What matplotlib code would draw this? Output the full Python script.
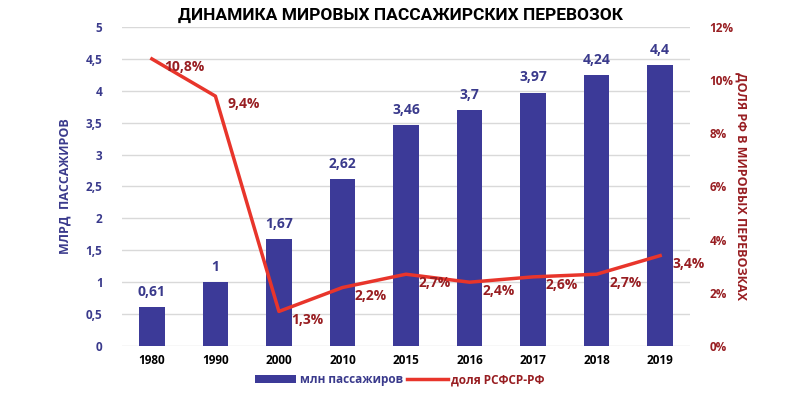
import numpy as np
import matplotlib.pyplot as plt

plt.rcParams['font.family'] = ['Open Sans', 'DejaVu Sans']
plt.rcParams['font.weight'] = 'bold'

years = ['1980', '1990', '2000', '2010', '2015', '2016', '2017', '2018', '2019']
passengers = [0.61, 1, 1.67, 2.62, 3.46, 3.7, 3.97, 4.24, 4.4]
pass_labels = ['0,61', '1', '1,67', '2,62', '3,46', '3,7', '3,97', '4,24', '4,4']
share = [10.8, 9.4, 1.3, 2.2, 2.7, 2.4, 2.6, 2.7, 3.4]
share_labels = ['10,8%', '9,4%', '1,3%', '2,2%', '2,7%', '2,4%', '2,6%', '2,7%', '3,4%']

blue = '#3c3a98'
dblue = '#3a3a8c'
red = '#e8352b'
dred = '#981e22'

fig = plt.figure(figsize=(8, 3.93), dpi=100)
ax = fig.add_axes([0.1525, 0.1196, 0.71, 0.8117])
x = np.arange(len(years))

bars = ax.bar(x, passengers, width=0.4, color=blue, label='млн пассажиров', zorder=2)
ax.set_ylim(0, 5)
ax.set_xlim(-0.47, 8.47)
ax.set_yticks(np.arange(0, 5.01, 0.5))
ax.set_yticklabels(['0', '0,5', '1', '1,5', '2', '2,5', '3', '3,5', '4', '4,5', '5'])
ax.yaxis.grid(True, color='#d9d9d9', linewidth=1, zorder=0)
ax.set_axisbelow(True)
for s in ax.spines.values():
    s.set_visible(False)
ax.tick_params(axis='y', length=0, pad=14, labelsize=8.5, labelcolor=dblue)
ax.tick_params(axis='x', length=0, pad=6, labelsize=8.5, labelcolor='black')
ax.set_xticks(x)
ax.set_xticklabels(years, fontweight='bold')
ax.set_ylabel('МЛРД  ПАССАЖИРОВ', color=dblue, fontsize=9, labelpad=10,
              fontweight='bold')

for xi, v, t in zip(x, passengers, pass_labels):
    ax.annotate(t, (xi, v), xytext=(0, 6), textcoords='offset points',
                ha='center', va='bottom', color=dblue, fontsize=10)

ax2 = ax.twinx()
line, = ax2.plot(x, share, color=red, linewidth=2.5, label='доля РСФСР-РФ', zorder=3)
ax2.set_ylim(0, 12)
ax2.set_yticks(np.arange(0, 12.1, 2))
ax2.set_yticklabels([f'{int(v)}%' for v in np.arange(0, 12.1, 2)])
for s in ax2.spines.values():
    s.set_visible(False)
ax2.tick_params(axis='y', length=0, pad=14, labelsize=8.5, labelcolor=dred)
ax2.set_ylabel('ДОЛЯ РФ В МИРОВЫХ ПЕРЕВОЗКАХ', color=dred, fontsize=9,
               rotation=-90, labelpad=10, fontweight='bold')

for xi, v, t in zip(x, share, share_labels):
    ax2.annotate(t, (xi, v), xytext=(9, -6), textcoords='offset points',
                 ha='left', va='center', color=dred, fontsize=10)

fig.suptitle('ДИНАМИКА МИРОВЫХ ПАССАЖИРСКИХ ПЕРЕВОЗОК', y=0.98, fontsize=12.5,
             color='black', fontweight='bold', family=['Roboto', 'DejaVu Sans'])

fig.legend([bars, line], ['млн пассажиров', 'доля РСФСР-РФ'], loc='lower center',
           bbox_to_anchor=(0.5, -0.01), ncol=2, frameon=False, fontsize=8.5,
           handlelength=3.5, columnspacing=0.3, handletextpad=0.3,
           labelcolor=[dblue, dred])

fig.savefig('out.png', dpi=100)
